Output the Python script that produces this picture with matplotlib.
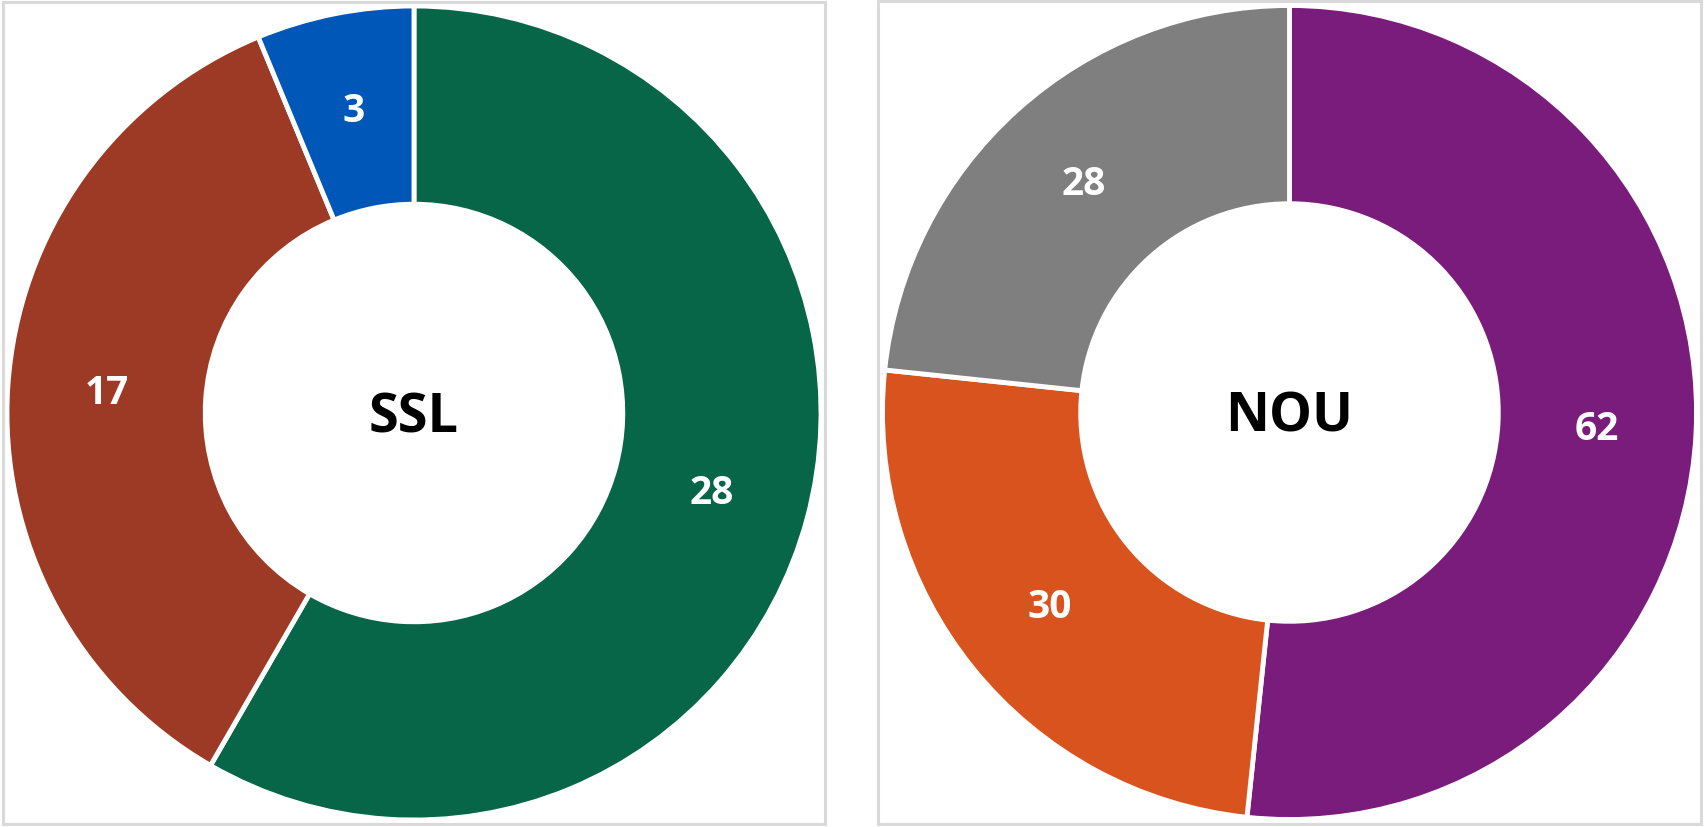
import matplotlib.pyplot as plt
import numpy as np

# data
ssl_values = [28, 17, 3]
ssl_colors = ["#076548", "#9C3A25", "#0057B8"]
nou_values = [62, 30, 28]
nou_colors = ["#7A1C7B", "#D9531E", "#7F7F7F"]
titles = ["SSL", "NOU"]

W, H = 1704, 828
fig = plt.figure(figsize=(W / 100, H / 100), dpi=100)
fig.patch.set_facecolor("white")

# boxes in pixels (left, top, right, bottom)
boxes = [(3, 3, 825, 825), (878, 2, 1701, 825)]
font = "Open Sans"


def donut(box, values, colors, title):
    x0, y0, x1, y1 = box
    ax = fig.add_axes([x0 / W, 1 - y1 / H, (x1 - x0) / W, (y1 - y0) / H])
    ax.pie(values,
           colors=colors,
           startangle=90,
           counterclock=False,
           radius=1.0,
           wedgeprops=dict(width=0.487, edgecolor="white", linewidth=3.5))
    # value labels in the middle of the ring
    total = float(sum(values))
    start = 90.0
    for v in values:
        mid = start - v / total * 360 / 2
        r = 0.757
        ax.text(r * np.cos(np.radians(mid)), r * np.sin(np.radians(mid)), str(v),
                ha="center", va="center", color="white", fontsize=28,
                fontweight="bold", family=font)
        start -= v / total * 360
    ax.text(0, -0.01, title, ha="center", va="center", color="black",
            fontsize=39, fontweight="bold", family=font)
    half = (x1 - x0) / 2 / 407
    ax.set_xlim(-half, half)
    ax.set_ylim(-half, half)
    ax.set_aspect("auto")
    ax.set_xticks([])
    ax.set_yticks([])
    ax.set_frame_on(True)
    for s in ax.spines.values():
        s.set_visible(True)
        s.set_color("#D9D9D9")
        s.set_linewidth(2.2)
    return ax


donut(boxes[0], ssl_values, ssl_colors, titles[0])
donut(boxes[1], nou_values, nou_colors, titles[1])

fig.savefig("out.png", dpi=100, facecolor="white")
